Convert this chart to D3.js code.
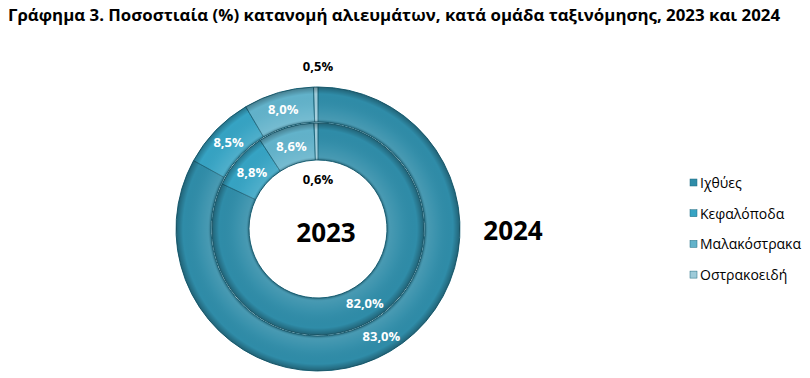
<html>
<head>
<meta charset="utf-8">
<script src="https://d3js.org/d3.v7.min.js"></script>
<style>
  body { margin: 0; background: #fff; }
  text { font-family: "Open Sans", "Noto Sans", sans-serif; }
</style>
</head>
<body>
<div id="chart"></div>
<script>
const categories = ["Ιχθύες", "Κεφαλόποδα", "Μαλακόστρακα", "Οστρακοειδή"];
const values2023 = [82.0, 8.8, 8.6, 0.6];
const values2024 = [83.0, 8.5, 8.0, 0.5];
const colors = ["#2f8ca8", "#36a3c3", "#62b2ca", "#9ecbd9"];

const W = 810, H = 378;
const cx = 318, cy = 229;

const svg = d3.select("#chart").append("svg")
    .attr("width", W).attr("height", H);

// title
svg.append("text")
    .attr("x", 8).attr("y", 21)
    .attr("font-weight", "bold")
    .attr("font-size", 16)
    .attr("fill", "#000")
    .attr("textLength", 772).attr("lengthAdjust", "spacingAndGlyphs")
    .text("Γράφημα 3. Ποσοστιαία (%) κατανομή αλιευμάτων, κατά ομάδα ταξινόμησης, 2023 και 2024");

const defs = svg.append("defs");
// bevel look for each ring (gradient centred on the chart group origin)
function ringShade(id, r0, r1) {
    const R = 142;
    const grad = defs.append("radialGradient").attr("id", id)
        .attr("gradientUnits", "userSpaceOnUse")
        .attr("cx", 0).attr("cy", 0).attr("r", R);
    [
        [r0 / R, "#000", 0.25],
        [(r0 + 3) / R, "#fff", 0.12],
        [(r0 + (r1 - r0) * 0.4) / R, "#fff", 0.04],
        [(r1 - 7) / R, "#000", 0.0],
        [r1 / R, "#000", 0.3]
    ].forEach(d => grad.append("stop").attr("offset", d[0])
        .attr("stop-color", d[1]).attr("stop-opacity", d[2]));
}
ringShade("shadeIn", 69, 106);
ringShade("shadeOut", 107, 142);

const pie = d3.pie().sort(null).value(d => d);
const g = svg.append("g").attr("transform", `translate(${cx},${cy})`);

function ring(vals, r0, r1, shadeId) {
    const arc = d3.arc().innerRadius(r0).outerRadius(r1);
    const arcs = pie(vals);
    g.selectAll(null).data(arcs).enter().append("path")
        .attr("d", arc)
        .attr("fill", (d, i) => colors[i])
        .attr("stroke", "#1f6a80")
        .attr("stroke-width", 1);
    g.append("path")
        .attr("d", d3.arc().innerRadius(r0).outerRadius(r1).startAngle(0).endAngle(2 * Math.PI)())
        .attr("fill", `url(#${shadeId})`)
        .attr("pointer-events", "none");
    return { arc, arcs };
}

const inner = ring(values2023, 69, 106, "shadeIn");
const outer = ring(values2024, 107, 142, "shadeOut");

const fmt = v => v.toFixed(1).replace(".", ",") + "%";

function labels(r, vals, arcs, smallY) {
    arcs.forEach((d, i) => {
        let x, y, fill = "#fff";
        if (i === vals.length - 1) {
            x = cx; y = smallY; fill = "#000";
        } else {
            const c = r.centroid(d);
            x = cx + c[0]; y = cy + c[1] + 5;
        }
        svg.append("text")
            .attr("x", x).attr("y", y)
            .attr("text-anchor", "middle")
            .attr("font-weight", "bold")
            .attr("font-size", 13)
            .attr("fill", fill)
            .text(fmt(vals[i]));
    });
}
labels(inner.arc, values2023, inner.arcs, 184);
labels(outer.arc, values2024, outer.arcs, 71);

// year labels
svg.append("text").attr("x", 326).attr("y", 242).attr("text-anchor", "middle")
    .attr("font-weight", "bold").attr("font-size", 26).text("2023");
svg.append("text").attr("x", 513).attr("y", 240).attr("text-anchor", "middle")
    .attr("font-weight", "bold").attr("font-size", 26).text("2024");

// legend
const leg = svg.append("g").attr("transform", "translate(690,183)");
categories.forEach((c, i) => {
    const y = i * 30.7;
    leg.append("rect").attr("x", 0).attr("y", y - 4).attr("width", 7).attr("height", 7)
        .attr("fill", colors[i]).attr("stroke", "#1f6a80").attr("stroke-width", 0.5);
    leg.append("text").attr("x", 10).attr("y", y + 5)
        .attr("font-size", 14).attr("fill", "#000").text(c);
});
</script>
</body>
</html>
